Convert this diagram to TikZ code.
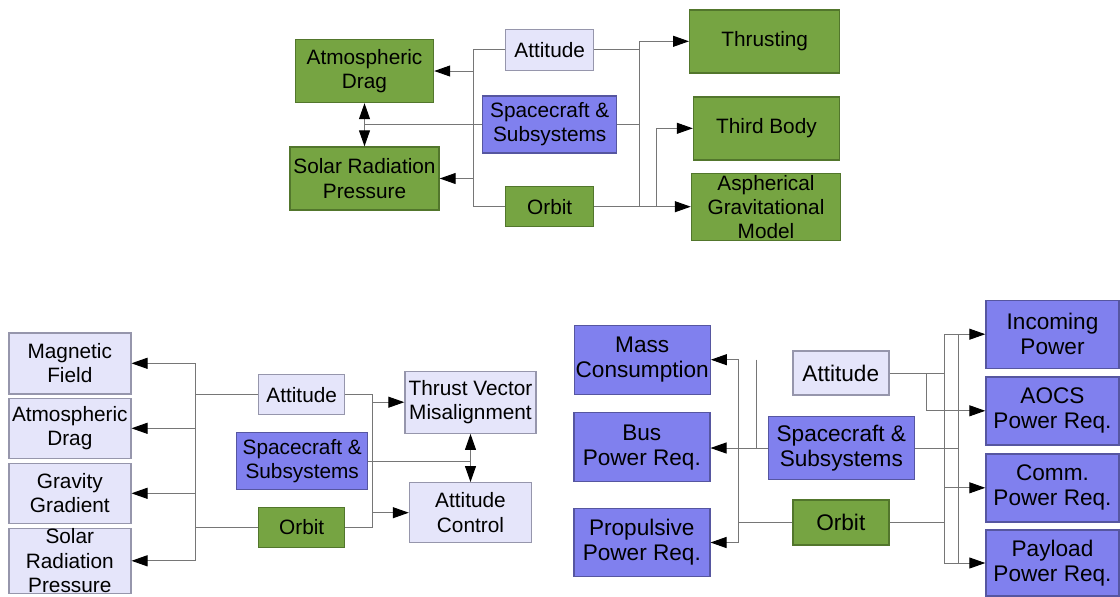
\documentclass[tikz,border=0pt]{standalone}
\usepackage{fontspec}
\setmainfont{Liberation Sans}
\usetikzlibrary{positioning,arrows.meta,calc}
\definecolor{boxgreen}{RGB}{118,164,66}
\definecolor{greenedge}{RGB}{82,118,44}
\definecolor{boxblue}{RGB}{128,128,238}
\definecolor{blueedge}{RGB}{86,86,160}
\definecolor{boxlav}{RGB}{229,229,250}
\definecolor{lavedge}{RGB}{150,150,172}
\definecolor{wiregray}{RGB}{118,118,118}
\tikzset{>={Triangle[length=8pt,width=5.5pt,color=black]}}
\tikzset{
  gbox/.style={draw=greenedge, fill=boxgreen, line width=0.7pt, align=center, inner sep=0pt},
  bbox/.style={draw=blueedge, fill=boxblue, line width=0.7pt, align=center, inner sep=0pt},
  lbox/.style={draw=lavedge, fill=boxlav, line width=0.7pt, align=center, inner sep=0pt},
  wire/.style={draw=wiregray, line width=0.5pt},
  arr/.style={wire, ->},
  arrr/.style={wire, <->}
}

\begin{document}
\begin{tikzpicture}[x=0.5pt, y=-0.5pt, font=\fontsize{10.4}{12.2}\selectfont]
  \path[use as bounding box, fill=white] (0,0) rectangle (1120,596);

  % orbit propagation
  \node[gbox, minimum width=69pt, minimum height=31.5pt] (ad) at (364.5,71) {Atmospheric\\Drag};
  \node[gbox, minimum width=74.5pt, minimum height=31.5pt] (srp) at (364.5,178.5) {Solar Radiation\\Pressure};
  \node[lbox, minimum width=44pt, minimum height=20.5pt] (att1) at (549.7,49.7) {Attitude};
  \node[bbox, minimum width=67pt, minimum height=28.5pt] (sc1) at (549.7,124.3) {Spacecraft \&\\Subsystems};
  \node[gbox, minimum width=44pt, minimum height=20pt] (orb1) at (549.7,206.7) {Orbit};
  \node[gbox, minimum width=75pt, minimum height=31.5pt] (thr) at (764.7,41.3) {Thrusting};
  \node[gbox, minimum width=73pt, minimum height=31.5pt] (tb) at (766.5,128.3) {Third Body};
  \node[gbox, minimum width=74.5pt, minimum height=33.5pt] (asph) at (766,207) {Aspherical\\Gravitational\\Model};
  \coordinate (tl) at (473,0);
  \coordinate (tr) at (639.6,0);
  \coordinate (tr2) at (656.6,0);

  \draw[wire] (att1.west) -| (tl |- orb1.west) -- (orb1.west);
  \draw[arr] (tl |- ad.east) -- (ad.east);
  \draw[arr] (tl |- srp.east) -- (srp.east);
  \draw[arrr] (ad.south) -- (srp.north);
  \draw[wire] (sc1.west) -- (ad.south |- sc1.west);
  \draw[wire] (tr |- thr.west) -- (tr |- orb1.east);
  \draw[arr] (tr |- thr.west) -- (thr.west);
  \draw[wire] (att1.east) -- (tr |- att1.east);
  \draw[wire] (sc1.east) -- (tr |- sc1.east);
  \draw[arr] (orb1.east) -- (orb1.east -| asph.west);
  \draw[arr] (tr2 |- orb1.east) |- (tb.west);

  % attitude propagation
  \node[lbox, minimum width=61pt, minimum height=30.5pt] (mf) at (69.8,363.3) {Magnetic\\Field};
  \node[lbox, minimum width=61pt, minimum height=30pt] (ad2) at (69.8,428.3) {Atmospheric\\Drag};
  \node[lbox, minimum width=61pt, minimum height=30pt] (gg) at (69.8,493.3) {Gravity\\Gradient};
  \node[lbox, minimum width=61pt, minimum height=32.5pt] (srp2) at (69.8,560.8) {Solar\\Radiation\\Pressure};
  \node[lbox, minimum width=43pt, minimum height=20pt] (att2) at (301.7,394.7) {Attitude};
  \node[bbox, minimum width=65.5pt, minimum height=28.5pt] (sc2) at (302.2,461) {Spacecraft \&\\Subsystems};
  \node[gbox, minimum width=43pt, minimum height=20pt] (orb2) at (301.7,527.3) {Orbit};
  \node[lbox, minimum width=65.5pt, minimum height=31pt] (tvm) at (470.5,402.2) {Thrust Vector\\Misalignment};
  \node[lbox, minimum width=61pt, minimum height=30pt] (ac) at (470.5,512.7) {Attitude\\Control};
  \coordinate (bl) at (195,0);
  \coordinate (br) at (372.5,0);

  \draw[wire] (bl |- mf.east) -- (bl |- srp2.east);
  \foreach \n in {mf,ad2,gg,srp2}
    \draw[arr] (bl |- \n.east) -- (\n.east);
  \draw[wire] (att2.west) -- (bl |- att2.west);
  \draw[wire] (orb2.west) -- (bl |- orb2.west);
  \draw[wire] (att2.east) -| (br |- orb2.east) -- (orb2.east);
  \draw[arr] (br |- tvm.west) -- (tvm.west);
  \draw[arr] (br |- ac.west) -- (ac.west);
  \draw[arrr] (tvm.south) -- (tvm.south |- ac.north);
  \draw[wire] (sc2.east) -- (tvm.south |- sc2.east);

  % power budget
  \begin{scope}[font=\fontsize{11.3}{12.6}\selectfont]
  \node[bbox, minimum width=68pt, minimum height=34.5pt] (mc) at (642.2,359.7) {Mass\\Consumption};
  \node[bbox, minimum width=68pt, minimum height=34.5pt] (bus) at (641.8,447.2) {Bus\\Power Req.};
  \node[bbox, minimum width=68pt, minimum height=34pt] (prop) at (641.8,542.5) {Propulsive\\Power Req.};
  \node[lbox, minimum width=48pt, minimum height=22pt] (att3) at (840.8,373) {Attitude};
  \node[bbox, minimum width=73pt, minimum height=31.3pt] (sc3) at (841.3,448) {Spacecraft \&\\Subsystems};
  \node[gbox, minimum width=48pt, minimum height=22.5pt] (orb3) at (840.8,522.5) {Orbit};
  \node[bbox, minimum width=66.5pt, minimum height=34pt] (inc) at (1052.5,334.2) {Incoming\\Power};
  \node[bbox, minimum width=66.5pt, minimum height=34pt] (aocs) at (1052.5,410.8) {AOCS\\Power Req.};
  \node[bbox, minimum width=66.5pt, minimum height=34pt] (comm) at (1052.5,487.8) {Comm.\\Power Req.};
  \node[bbox, minimum width=66.5pt, minimum height=33pt] (pay) at (1052.5,563) {Payload\\Power Req.};
  \end{scope}
  \coordinate (ra) at (738.6,0);
  \coordinate (rb) at (756.4,0);
  \coordinate (rc) at (944.3,0);
  \coordinate (rd) at (958.3,0);
  \coordinate (re) at (926,0);

  \draw[wire] (ra |- mc.east) -- (ra |- prop.east);
  \draw[wire] (rb |- mc.east) -- (rb |- sc3.west);
  \draw[arr] (ra |- mc.east) -- (mc.east);
  \draw[arr] (ra |- prop.east) -- (prop.east);
  \draw[arr] (sc3.west) -- (sc3.west -| bus.east);
  \draw[wire] (orb3.west) -- (ra |- orb3.west);
  \draw[wire] (rc |- inc.west) -- (rc |- pay.west);
  \draw[wire] (rd |- inc.west) -- (rd |- pay.west);
  \draw[wire] (att3.east) -- (rc |- att3.east);
  \draw[wire] (sc3.east) -- (rd |- sc3.east);
  \draw[wire] (orb3.east) -- (rc |- orb3.east);
  \foreach \n in {inc,comm,pay}
    \draw[arr] (rc |- \n.west) -- (\n.west);
  \draw[arr] (re |- att3.east) |- (aocs.west);
\end{tikzpicture}
\end{document}
